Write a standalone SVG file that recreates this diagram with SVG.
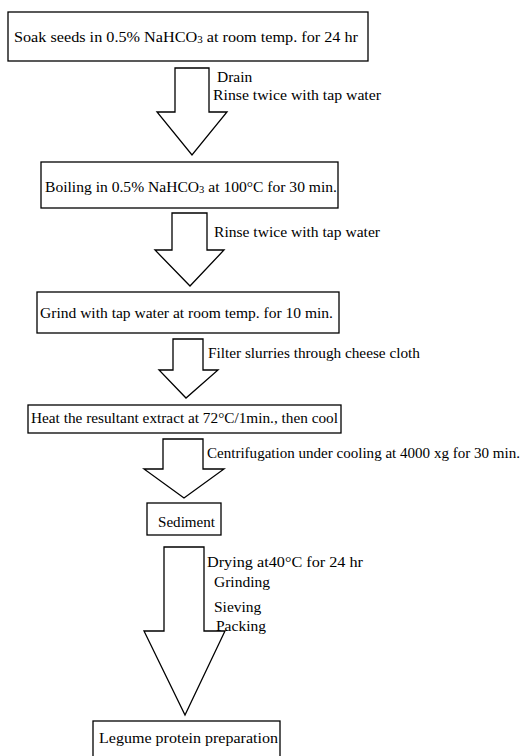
<svg xmlns="http://www.w3.org/2000/svg" width="531" height="756" viewBox="0 0 531 756">
<style>
.box{fill:#fff;stroke:#000;stroke-width:1.3}
.arr{fill:#fff;stroke:#000;stroke-width:1.3;stroke-linejoin:miter}
text{font-family:"Liberation Serif","Times New Roman",serif;font-size:15.5px;fill:#000}
.sub{font-size:10.5px}
</style>
<rect width="531" height="756" fill="#fff"/>
<g id="connectors">
<polygon class="arr" points="175,68 209,68 209,112 227,112 192,155 157,112 175,112"/>
<polygon class="arr" points="172,213 207,213 207,250 224,250 190,286 155,250 172,250"/>
<polygon class="arr" points="173,339 203,339 203,370 218,370 186,398 159,370 173,370"/>
<polygon class="arr" points="163,439 203,439 203,469 224,469 184,498 144,469 163,469"/>
<polygon class="arr" points="164,547 204,547 204,631 225,631 185,715 144,631 164,631"/>
<text x="217" y="82">Drain</text>
<text x="213" y="100" textLength="168" lengthAdjust="spacingAndGlyphs">Rinse twice with tap water</text>
<text x="214" y="237" textLength="166" lengthAdjust="spacingAndGlyphs">Rinse twice with tap water</text>
<text x="208" y="358" textLength="212" lengthAdjust="spacingAndGlyphs">Filter slurries through cheese cloth</text>
<text x="207" y="458" textLength="313" lengthAdjust="spacingAndGlyphs">Centrifugation under cooling at 4000 xg for 30 min.</text>
<text x="207" y="567" textLength="156" lengthAdjust="spacingAndGlyphs">Drying at40°C for 24 hr</text>
<text x="214" y="587">Grinding</text>
<text x="214" y="612">Sieving</text>
<text x="216" y="631">Packing</text>
</g>
<g id="n1"><rect class="box" x="8" y="12" width="360" height="49"/><text x="14" y="42" textLength="344" lengthAdjust="spacingAndGlyphs">Soak seeds in 0.5% NaHCO<tspan class="sub" dy="1">3</tspan><tspan dy="-1"> at room temp. for 24 hr</tspan></text></g>
<g id="n2"><rect class="box" x="41" y="162" width="297" height="46"/><text x="45" y="192" textLength="292" lengthAdjust="spacingAndGlyphs">Boiling in 0.5% NaHCO<tspan class="sub" dy="1">3</tspan><tspan dy="-1"> at 100°C for 30 min.</tspan></text></g>
<g id="n3"><rect class="box" x="37" y="292" width="302" height="41"/><text x="40" y="318" textLength="293" lengthAdjust="spacingAndGlyphs">Grind with tap water at room temp. for 10 min.</text></g>
<g id="n4"><rect class="box" x="28" y="405" width="313" height="28"/><text x="31" y="423" textLength="307" lengthAdjust="spacingAndGlyphs">Heat the resultant extract at 72°C/1min., then cool</text></g>
<g id="n5"><rect class="box" x="147" y="503" width="74" height="32"/><text x="158" y="527" textLength="57" lengthAdjust="spacingAndGlyphs">Sediment</text></g>
<g id="n6"><rect class="box" x="93" y="721" width="187" height="40"/><text x="99" y="743" textLength="179" lengthAdjust="spacingAndGlyphs">Legume protein preparation</text></g>
</svg>
